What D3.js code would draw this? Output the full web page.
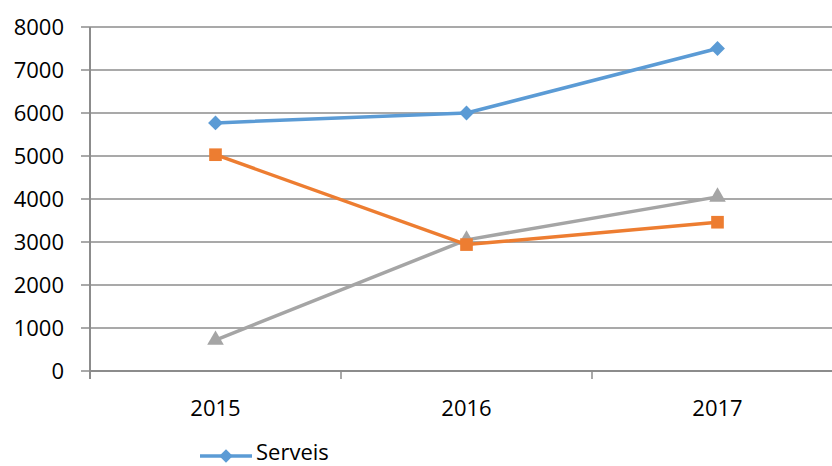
<!DOCTYPE html>
<html>
<head>
<meta charset="utf-8">
<script src="https://cdn.jsdelivr.net/npm/d3@7"></script>
<style>
  body { margin: 0; background: #fff; }
  text { font-family: "Open Sans", "Liberation Sans", sans-serif; fill: #000; }
</style>
</head>
<body>
<script>
// values
const years = ["2015", "2016", "2017"];
const serveis = [5770, 6000, 7500];
const orange = [5030, 2940, 3460];
const grey = [720, 3050, 4050];
const yTicks = [0, 1000, 2000, 3000, 4000, 5000, 6000, 7000, 8000];

const width = 832, height = 466;
const margin = {top: 27, left: 90, bottom: 95};
const plotRight = 843;

const svg = d3.select("body").append("svg")
  .attr("width", width)
  .attr("height", height);

const x = d3.scaleBand().domain(years).range([margin.left, plotRight]);
const y = d3.scaleLinear().domain([0, 8000]).range([height - margin.bottom, margin.top]);

// gridlines + y labels
let grid = svg.append("g");
grid.selectAll("line")
  .data(yTicks)
  .enter().append("line")
  .attr("x1", margin.left - 9)
  .attr("x2", width)
  .attr("y1", d => y(d))
  .attr("y2", d => y(d))
  .attr("stroke", "#8c8c8c")
  .attr("stroke-width", 1.3);

grid.selectAll("text")
  .data(yTicks)
  .enter().append("text")
  .attr("x", 64)
  .attr("y", d => y(d))
  .attr("dy", "0.36em")
  .attr("text-anchor", "end")
  .style("font-size", "22px")
  .text(d => d);

// y axis line
svg.append("line")
  .attr("x1", margin.left).attr("x2", margin.left)
  .attr("y1", y(8000)).attr("y2", y(0) + 8)
  .attr("stroke", "#8c8c8c").attr("stroke-width", 2);

// x axis
svg.append("line")
  .attr("x1", margin.left).attr("x2", width)
  .attr("y1", y(0)).attr("y2", y(0))
  .attr("stroke", "#8c8c8c").attr("stroke-width", 2);

// category boundary ticks
svg.selectAll(".xtick")
  .data(years)
  .enter().append("line")
  .attr("x1", d => x(d)).attr("x2", d => x(d))
  .attr("y1", y(0)).attr("y2", y(0) + 8)
  .attr("stroke", "#8c8c8c").attr("stroke-width", 1.5);

svg.selectAll(".xlab")
  .data(years)
  .enter().append("text")
  .attr("x", d => x(d) + x.bandwidth() / 2)
  .attr("y", 416)
  .attr("text-anchor", "middle")
  .style("font-size", "22px")
  .text(d => d);

const cx = d => x(d) + x.bandwidth() / 2;

// diamond = square turned 45 degrees
const series = [
  {vals: grey, color: "#a5a5a5", shape: d3.symbolTriangle, size: 120, rot: 0},
  {vals: orange, color: "#ed7d31", shape: d3.symbolSquare, size: 160, rot: 0},
  {vals: serveis, color: "#5b9bd5", shape: d3.symbolSquare, size: 110, rot: 45}
];

let line = d3.line().x((v, i) => cx(years[i])).y(v => y(v));

series.forEach(s => {
  svg.append("path")
    .attr("d", line(s.vals))
    .attr("fill", "none")
    .attr("stroke", s.color)
    .attr("stroke-width", 3.5)
    .attr("stroke-linejoin", "round");
  svg.selectAll(null)
    .data(s.vals)
    .enter().append("path")
    .attr("d", d3.symbol().type(s.shape).size(s.size))
    .attr("transform", (v, i) => "translate(" + cx(years[i]) + "," + y(v) + ") rotate(" + s.rot + ")")
    .attr("fill", s.color);
});

// legend
let leg = svg.append("g");
leg.append("line")
  .attr("x1", 200).attr("x2", 252)
  .attr("y1", 456).attr("y2", 456)
  .attr("stroke", "#5b9bd5").attr("stroke-width", 3.5);
leg.append("path")
  .attr("d", d3.symbol().type(d3.symbolSquare).size(90))
  .attr("transform", "translate(226,456) rotate(45)")
  .attr("fill", "#5b9bd5");
leg.append("text")
  .attr("x", 256).attr("y", 452)
  .attr("dy", "0.36em")
  .style("font-size", "22px")
  .text("Serveis");
</script>
</body>
</html>
